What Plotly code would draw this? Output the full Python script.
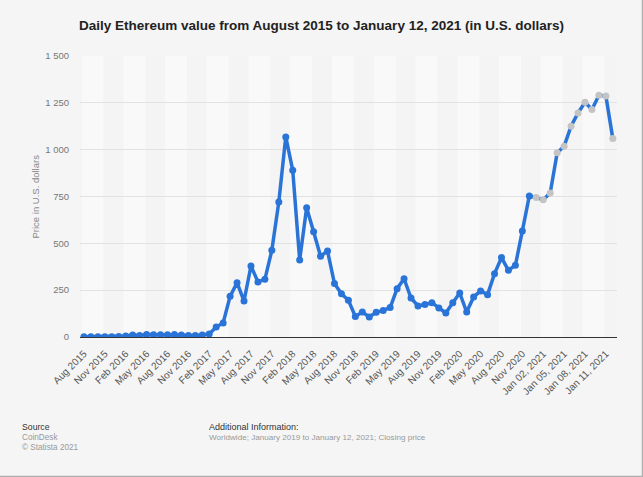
import plotly.graph_objects as go

# ---- data ----
months = ["Aug 2015", "Sep 2015", "Oct 2015", "Nov 2015", "Dec 2015"]
for yr in range(2016, 2021):
    for m in ["Jan", "Feb", "Mar", "Apr", "May", "Jun", "Jul", "Aug", "Sep", "Oct", "Nov", "Dec"]:
        months.append(f"{m} {yr}")
days_2021 = [f"Jan {d:02d}, 2021" for d in range(1, 13)]
categories = months + days_2021

prices = [
    1.2, 1.3, 0.9, 0.9, 0.9,                      # Aug-Dec 2015
    2.2, 5.5, 11, 8.5, 13, 12, 12.5, 11.5, 13, 11, 8.5, 8,   # 2016
    10.5, 16, 53, 75, 217, 290, 192, 379, 294, 308, 463, 721,  # 2017
    1068, 890, 411, 690, 562, 431, 459, 285, 231, 196, 110, 133,  # 2018
    107, 132, 142, 157, 258, 311, 208, 166, 173, 183, 155, 128,  # 2019
    183, 235, 133, 214, 246, 226, 338, 424, 356, 383, 566, 753,  # 2020
    744, 733, 769, 983, 1018, 1125, 1196, 1253, 1214, 1290, 1287, 1059,  # Jan 1-12 2021
]

tick_labels = categories[::3]
y_ticks = [0, 250, 500, 750, 1000, 1250, 1500]

BLUE = "#2a74d8"
GRAY = "#c4c4c4"
marker_colors = [BLUE] * len(months) + [GRAY] * len(days_2021)

fig = go.Figure()
fig.add_trace(go.Scatter(
    x=categories, y=prices, mode="lines+markers",
    line=dict(color=BLUE, width=3.5),
    marker=dict(color=marker_colors, size=7),
    hoverinfo="x+y",
))

# subtle vertical bands in plot area
shapes = []
for k in range(0, 13):
    x0 = 6 * k - 0.35
    x1 = 6 * k + 2.8
    shapes.append(dict(type="rect", xref="x", yref="paper", x0=x0, x1=x1, y0=0, y1=1,
                       fillcolor="#f9f9f9", line=dict(width=0), layer="below"))

W, H = 643, 477
L, R, T, B = 80, 26, 56, 140
pw, ph = W - L - R, H - T - B

def px(x):
    return (x - L) / pw

def py(y):
    return (H - B - y) / ph

# outer border (right & bottom)
shapes.append(dict(type="line", xref="paper", yref="paper", x0=px(642.5), x1=px(642.5),
                   y0=py(0), y1=py(477), line=dict(color="#b0b0b0", width=1.5)))
shapes.append(dict(type="line", xref="paper", yref="paper", x0=px(0), x1=px(643),
                   y0=py(476.5), y1=py(476.5), line=dict(color="#b0b0b0", width=1.5)))

FONT = "Liberation Sans, Arial, sans-serif"
annotations = [
    dict(text="Price in U.S. dollars", x=px(35), y=0.5, xref="paper", yref="paper",
         xanchor="center", yanchor="middle",
         textangle=-90, showarrow=False, font=dict(size=9.5, color="#888", family=FONT)),
    dict(text="Source", x=px(19.5), y=py(427), xref="paper", yref="paper", xanchor="left",
         yanchor="middle", showarrow=False, font=dict(size=8.7, color="#333", family=FONT)),
    dict(text="CoinDesk", x=px(19.5), y=py(437.5), xref="paper", yref="paper", xanchor="left",
         yanchor="middle", showarrow=False, font=dict(size=8.2, color="#999", family=FONT)),
    dict(text="© Statista 2021", x=px(19.5), y=py(447.5), xref="paper", yref="paper", xanchor="left",
         yanchor="middle", showarrow=False, font=dict(size=8.2, color="#999", family=FONT)),
    dict(text="Additional Information:", x=px(206.5), y=py(427), xref="paper", yref="paper",
         xanchor="left", yanchor="middle", showarrow=False,
         font=dict(size=9, color="#333", family=FONT)),
    dict(text="Worldwide; January 2019 to January 12, 2021; Closing price", x=px(206.5), y=py(437.5),
         xref="paper", yref="paper", xanchor="left", yanchor="middle", showarrow=False,
         font=dict(size=8.1, color="#999", family=FONT)),
]

fig.update_layout(
    width=W, height=H,
    margin=dict(l=L, r=R, t=T, b=B),
    paper_bgcolor="#f5f5f5", plot_bgcolor="#f4f4f4",
    separators=". ",
    showlegend=False,
    title=dict(text="<b>Daily Ethereum value from August 2015 to January 12, 2021 (in U.S. dollars)</b>",
               x=0.5, xanchor="center", y=1 - 25 / H, yanchor="middle",
               font=dict(size=13.5, color="#222", family=FONT)),
    font=dict(family=FONT),
    shapes=shapes,
    annotations=annotations,
    xaxis=dict(
        type="category", categoryorder="array", categoryarray=categories,
        range=[-0.57, 76.6],
        tickmode="array", tickvals=tick_labels, ticktext=tick_labels,
        tickangle=-45, tickfont=dict(size=10, color="#555", family=FONT),
        ticklabelstandoff=6,
        showgrid=False, showline=True, linecolor="#333", linewidth=1,
        ticks="", zeroline=False,
    ),
    yaxis=dict(
        range=[0, 1500], tickvals=y_ticks, tickformat=",d",
        tickfont=dict(size=9.5, color="#777", family=FONT),
        gridcolor="#e2e2e2", gridwidth=1, zeroline=False, showline=False,
        ticklabelstandoff=10,
    ),
)

fig.write_html(
    "out.html",
    config={"displayModeBar": False},
    post_script="document.body.style.margin='0';document.body.style.background='#f5f5f5';",
)
